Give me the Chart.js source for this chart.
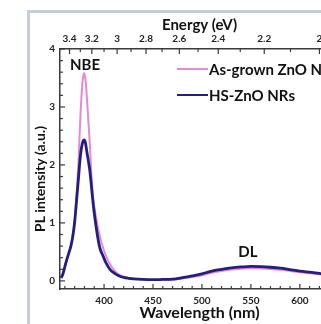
<!DOCTYPE html>
<html><head><meta charset="utf-8">
<script src="https://cdn.jsdelivr.net/npm/chart.js@4"></script>
<style>
html,body{margin:0;padding:0;background:#fff;overflow:hidden;width:321px;height:324px;}
#frame{position:absolute;left:27px;top:10px;width:400px;height:400px;border:3px solid #c8ccd3;box-sizing:border-box;background:#fff;}
#wrap{position:absolute;left:0;top:0;width:350px;height:324px;}
</style></head><body>
<div id="frame"></div>
<div id="wrap"><canvas id="c" width="350" height="324"></canvas></div>
<script>
// ---- data ----
const wavelength = [356,358,361,364,366,368,370,372,374,375.5,377,378.5,379.8,381,382.5,384,385.5,387,388.5,390,392,394,396,399,402,406,410,415,420,425,430,440,450,460,470,480,490,500,510,520,530,540,550,560,570,580,590,600,610,620,630,640];
const asGrown = [0.05,0.12,0.31,0.48,0.60,0.76,1.02,1.52,2.09,2.70,3.20,3.50,3.58,3.48,3.15,2.75,2.35,1.85,1.50,1.28,1.08,0.90,0.75,0.57,0.43,0.29,0.19,0.11,0.07,0.05,0.035,0.022,0.015,0.018,0.02,0.04,0.065,0.095,0.14,0.17,0.195,0.21,0.22,0.215,0.205,0.19,0.17,0.15,0.13,0.115,0.10,0.085];
const hsZnO = [0.05,0.12,0.31,0.48,0.59,0.76,1.02,1.40,1.80,2.10,2.30,2.41,2.43,2.38,2.22,2.07,1.90,1.65,1.39,1.17,0.92,0.71,0.55,0.43,0.31,0.20,0.14,0.09,0.06,0.045,0.035,0.025,0.02,0.025,0.03,0.055,0.085,0.12,0.17,0.20,0.225,0.24,0.25,0.245,0.235,0.22,0.195,0.17,0.15,0.13,0.11,0.095];
const seriesNames = ['As-grown ZnO NRs','HS-ZnO NRs'];
const wavelengthTicks = [400,450,500,550,600];
const intensityTicks = [0,1,2,3,4];
const energyTicks = [3.4,3.2,3,2.8,2.6,2.4,2.2,2];
const energyMinorTicks = [3.3,3.1,2.9,2.7,2.5,2.3,2.1];
const peakNames = ['NBE','DL'];
const peakWavelength = [380.6,547];
const peakLabelLevel = [3.72,0.49];

const FONT = 'Lato';
const AX = '#3a3a3a';

function seg(ctx,x1,y1,x2,y2){ctx.beginPath();ctx.moveTo(x1,y1);ctx.lineTo(x2,y2);ctx.stroke();}

const decor = {
  id:'decor',
  afterDraw(chart){
    const {ctx, chartArea:a, scales} = chart;
    const xb = scales.x, xt = scales.xTop, y = scales.y;
    ctx.save();
    ctx.strokeStyle = AX; ctx.lineWidth = 1.2;
    for (let v = 360; v <= 640; v += 10) {
      const px = xb.getPixelForValue(v);
      const L = wavelengthTicks.includes(v) ? 5 : 3;
      seg(ctx, px, a.bottom, px, a.bottom - L);
    }
    energyTicks.forEach(e => { const px = xt.getPixelForValue(1240/e); if (px <= a.right) seg(ctx, px, a.top, px, a.top + 5); });
    energyMinorTicks.forEach(e => { const px = xt.getPixelForValue(1240/e); if (px <= a.right) seg(ctx, px, a.top, px, a.top + 3); });
    for (let i = 0; i <= 20; i++) {
      const v = i * 0.2;
      const py = y.getPixelForValue(v);
      const L = (i % 5 === 0) ? 5 : 3;
      seg(ctx, a.left, py, a.left + L, py);
    }
    ctx.fillStyle = '#111';
    ctx.font = 'bold 14px ' + FONT;
    ctx.textAlign = 'center'; ctx.textBaseline = 'middle';
    ctx.save(); ctx.translate(40, 179); ctx.rotate(-Math.PI/2); ctx.fillText('PL intensity (a.u.)', 0, 0); ctx.restore();
    ctx.font = 'bold 15px ' + FONT;
    peakNames.forEach((t,i) => {
      ctx.fillText(t, xb.getPixelForValue(peakWavelength[i]), y.getPixelForValue(peakLabelLevel[i]));
    });
    const ds = chart.data.datasets;
    const legY = [69, 95];
    ctx.textAlign = 'left';
    ctx.font = 'bold 15px ' + FONT;
    ds.forEach((d,i) => {
      ctx.strokeStyle = d.borderColor; ctx.lineWidth = 2;
      seg(ctx, 177, legY[i], 208, legY[i]);
      ctx.fillStyle = '#111';
      ctx.fillText(d.label, 209, legY[i] + 1);
    });
    ctx.restore();
  }
};

const tickFont = {family:FONT,weight:'bold',size:10};

new Chart(document.getElementById('c'), {
  type: 'line',
  data: {
    labels: wavelength,
    datasets: [
      { label: seriesNames[0], data: wavelength.map((w,i)=>({x:w,y:asGrown[i]})), borderColor:'#e68ad0', borderWidth:2, pointRadius:0, cubicInterpolationMode:'monotone', order:2 },
      { label: seriesNames[1], data: wavelength.map((w,i)=>({x:w,y:hsZnO[i]})), borderColor:'#221f7e', borderWidth:2.8, pointRadius:0, cubicInterpolationMode:'monotone', order:1 }
    ]
  },
  options: {
    responsive:false, animation:false, devicePixelRatio:1,
    layout:{padding:{left:0,top:0,right:11,bottom:0}},
    plugins:{legend:{display:false}, tooltip:{enabled:false}},
    scales:{
      x:{ type:'linear', position:'bottom', min:355, max:640,
        grid:{display:false, drawTicks:false}, border:{display:true,color:AX,width:1.5},
        ticks:{font:tickFont, color:'#222', padding:6, maxRotation:0, autoSkip:false},
        afterBuildTicks:s=>{ s.ticks = wavelengthTicks.map(v=>({value:v})); },
        afterFit:s=>{ s.height = 35; },
        title:{display:true, text:'Wavelength (nm)', font:{family:FONT,weight:'bold',size:16}, color:'#111', padding:{top:0,bottom:2}}
      },
      xTop:{ type:'linear', position:'top', min:355, max:640,
        grid:{display:false, drawTicks:false}, border:{display:true,color:AX,width:1.5},
        ticks:{font:tickFont, color:'#222', padding:4, maxRotation:0, autoSkip:false,
          callback:(v,i)=> String(energyTicks[i]) },
        afterBuildTicks:s=>{ s.ticks = energyTicks.map(e=>({value:1240/e})); },
        afterFit:s=>{ s.height = 49; },
        title:{display:true, text:'Energy (eV)', font:{family:FONT,weight:'bold',size:15}, color:'#111', padding:{top:16,bottom:0}}
      },
      y:{ type:'linear', position:'left', min:-0.14, max:4,
        grid:{display:false, drawTicks:false}, border:{display:true,color:AX,width:1.5},
        ticks:{font:tickFont, color:'#222', padding:5, autoSkip:false},
        afterBuildTicks:s=>{ s.ticks = intensityTicks.map(v=>({value:v})); },
        afterFit:s=>{ s.width = 60; }
      }
    }
  },
  plugins:[decor]
});
</script>
</body></html>
